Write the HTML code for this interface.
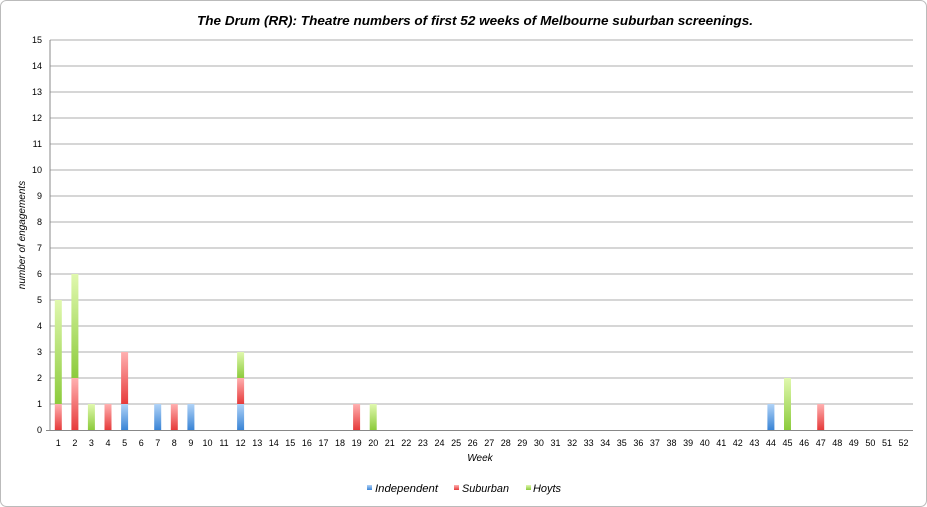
<!DOCTYPE html>
<html><head><meta charset="utf-8"><style>
body{margin:0;background:#fff}
svg{display:block;font-family:"Liberation Sans","DejaVu Sans",sans-serif}
</style></head><body>
<svg width="927" height="507" viewBox="0 0 927 507" xmlns="http://www.w3.org/2000/svg">
<defs>
<linearGradient id="b" x1="0" y1="0" x2="0" y2="1"><stop offset="0" stop-color="#b0d2f7"/><stop offset="1" stop-color="#3a84d6"/></linearGradient>
<linearGradient id="r" x1="0" y1="0" x2="0" y2="1"><stop offset="0" stop-color="#ffb0b0"/><stop offset="1" stop-color="#e63b3b"/></linearGradient>
<linearGradient id="g" x1="0" y1="0" x2="0" y2="1"><stop offset="0" stop-color="#e0f8ae"/><stop offset="1" stop-color="#8ccb3c"/></linearGradient>
</defs>
<rect x="0.5" y="0.5" width="926" height="506" rx="6" fill="#fff" stroke="#bbb"/>
<text x="197" y="25" textLength="556" lengthAdjust="spacingAndGlyphs" font-size="13" font-weight="bold" font-style="italic" fill="#000">The Drum (RR): Theatre numbers of first 52 weeks of Melbourne suburban screenings.</text>
<g stroke="#c8c8c8" stroke-width="1.5">
<line x1="50" x2="913" y1="404" y2="404"/><line x1="50" x2="913" y1="378" y2="378"/><line x1="50" x2="913" y1="352" y2="352"/><line x1="50" x2="913" y1="326" y2="326"/><line x1="50" x2="913" y1="300" y2="300"/><line x1="50" x2="913" y1="274" y2="274"/><line x1="50" x2="913" y1="248" y2="248"/><line x1="50" x2="913" y1="222" y2="222"/><line x1="50" x2="913" y1="196" y2="196"/><line x1="50" x2="913" y1="170" y2="170"/><line x1="50" x2="913" y1="144" y2="144"/><line x1="50" x2="913" y1="118" y2="118"/><line x1="50" x2="913" y1="92" y2="92"/><line x1="50" x2="913" y1="66" y2="66"/><line x1="50" x2="913" y1="40" y2="40"/>
</g>
<g stroke="#888" stroke-width="1">
<line x1="50" y1="40" x2="50" y2="430"/><line x1="46" x2="913" y1="430.5" y2="430.5"/>
</g>
<g font-size="9" fill="#000" text-anchor="end">
<text x="42" y="433">0</text><text x="42" y="407">1</text><text x="42" y="381">2</text><text x="42" y="355">3</text><text x="42" y="329">4</text><text x="42" y="303">5</text><text x="42" y="277">6</text><text x="42" y="251">7</text><text x="42" y="225">8</text><text x="42" y="199">9</text><text x="42" y="173">10</text><text x="42" y="147">11</text><text x="42" y="121">12</text><text x="42" y="95">13</text><text x="42" y="69">14</text><text x="42" y="43">15</text>
</g>
<text transform="translate(25,235) rotate(-90)" font-size="10" font-style="italic" text-anchor="middle">number of engagements</text>
<g>
<rect x="54.8" y="404" width="7" height="26" fill="url(#r)"/><rect x="54.8" y="300" width="7" height="104" fill="url(#g)"/>
<rect x="71.4" y="378" width="7" height="52" fill="url(#r)"/><rect x="71.4" y="274" width="7" height="104" fill="url(#g)"/>
<rect x="87.9" y="404" width="7" height="26" fill="url(#g)"/>
<rect x="104.5" y="404" width="7" height="26" fill="url(#r)"/>
<rect x="121.1" y="404" width="7" height="26" fill="url(#b)"/><rect x="121.1" y="352" width="7" height="52" fill="url(#r)"/>
<rect x="154.2" y="404" width="7" height="26" fill="url(#b)"/>
<rect x="170.8" y="404" width="7" height="26" fill="url(#r)"/>
<rect x="187.4" y="404" width="7" height="26" fill="url(#b)"/>
<rect x="237.1" y="404" width="7" height="26" fill="url(#b)"/><rect x="237.1" y="378" width="7" height="26" fill="url(#r)"/><rect x="237.1" y="352" width="7" height="26" fill="url(#g)"/>
<rect x="353.1" y="404" width="7" height="26" fill="url(#r)"/>
<rect x="369.7" y="404" width="7" height="26" fill="url(#g)"/>
<rect x="767.4" y="404" width="7" height="26" fill="url(#b)"/>
<rect x="784" y="378" width="7" height="52" fill="url(#g)"/>
<rect x="817.2" y="404" width="7" height="26" fill="url(#r)"/>
</g>
<g font-size="9" fill="#000" text-anchor="middle">
<text x="58.3" y="446">1</text><text x="74.9" y="446">2</text><text x="91.4" y="446">3</text><text x="108" y="446">4</text><text x="124.6" y="446">5</text><text x="141.2" y="446">6</text><text x="157.7" y="446">7</text><text x="174.3" y="446">8</text><text x="190.9" y="446">9</text><text x="207.5" y="446">10</text><text x="224" y="446">11</text><text x="240.6" y="446">12</text><text x="257.2" y="446">13</text><text x="273.7" y="446">14</text><text x="290.3" y="446">15</text><text x="306.9" y="446">16</text><text x="323.5" y="446">17</text><text x="340" y="446">18</text><text x="356.6" y="446">19</text><text x="373.2" y="446">20</text><text x="389.8" y="446">21</text><text x="406.3" y="446">22</text><text x="422.9" y="446">23</text><text x="439.5" y="446">24</text><text x="456.1" y="446">25</text><text x="472.6" y="446">26</text><text x="489.2" y="446">27</text><text x="505.8" y="446">28</text><text x="522.3" y="446">29</text><text x="538.9" y="446">30</text><text x="555.5" y="446">31</text><text x="572.1" y="446">32</text><text x="588.6" y="446">33</text><text x="605.2" y="446">34</text><text x="621.8" y="446">35</text><text x="638.4" y="446">36</text><text x="654.9" y="446">37</text><text x="671.5" y="446">38</text><text x="688.1" y="446">39</text><text x="704.7" y="446">40</text><text x="721.2" y="446">41</text><text x="737.8" y="446">42</text><text x="754.4" y="446">43</text><text x="770.9" y="446">44</text><text x="787.5" y="446">45</text><text x="804.1" y="446">46</text><text x="820.7" y="446">47</text><text x="837.2" y="446">48</text><text x="853.8" y="446">49</text><text x="870.4" y="446">50</text><text x="887" y="446">51</text><text x="903.5" y="446">52</text>
</g>
<text x="480" y="461" font-size="10" font-style="italic" text-anchor="middle">Week</text>
<g font-size="11" font-style="italic">
<rect x="367" y="485" width="5" height="5" fill="url(#b)"/><text x="375" y="492" textLength="63" lengthAdjust="spacingAndGlyphs">Independent</text>
<rect x="454" y="485" width="5" height="5" fill="url(#r)"/><text x="462" y="492" textLength="47" lengthAdjust="spacingAndGlyphs">Suburban</text>
<rect x="526" y="485" width="5" height="5" fill="url(#g)"/><text x="533" y="492" textLength="28" lengthAdjust="spacingAndGlyphs">Hoyts</text>
</g>
</svg>
</body></html>
